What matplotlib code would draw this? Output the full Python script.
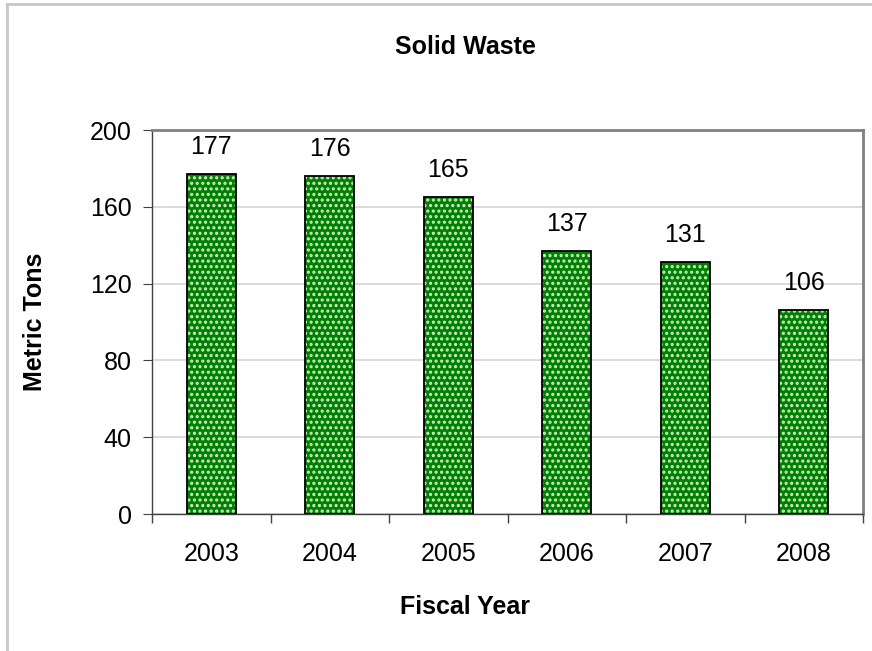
import numpy as np
import matplotlib.pyplot as plt

# -- data
years = ["2003", "2004", "2005", "2006", "2007", "2008"]
tons = [177, 176, 165, 137, 131, 106]
yticks = [0, 40, 80, 120, 160, 200]

plt.rcParams["font.family"] = ["Liberation Sans", "DejaVu Sans"]
plt.rcParams["hatch.linewidth"] = 1.5

fig = plt.figure(figsize=(8.72, 6.51), dpi=100)
ax = fig.add_axes([152 / 872, 1 - 514 / 651, (863 - 152) / 872, (514 - 130) / 651])

# -- outer frame (only top and left visible)
fig.add_artist(plt.Line2D([7 / 872, 1], [1 - 4 / 651, 1 - 4 / 651], color="#c8c8c8", lw=2))
fig.add_artist(plt.Line2D([7 / 872, 7 / 872], [0, 1 - 4 / 651], color="#c8c8c8", lw=2))

x = np.arange(len(years))
ax.bar(x, tons, width=0.41, color="#008000", edgecolor="#d0ecc8", hatch="...", lw=0, zorder=3)
ax.bar(x, tons, width=0.41, fill=False, edgecolor="black", lw=1.3, zorder=4)
for i, v in zip(x, tons):
    ax.text(i, v + 10.5, str(v), ha="center", va="baseline", fontsize=18)

ax.set_xlim(-0.5, len(years) - 0.5)
ax.set_ylim(0, 200)
ax.set_yticks(yticks)
ax.set_xticks(x)
ax.set_xticklabels(years)
ax.set_xticks(np.arange(len(years) + 1) - 0.5, minor=True)
ax.tick_params(axis="x", which="major", length=0, pad=20, labelsize=18)
ax.tick_params(axis="x", which="minor", length=6.5, direction="out", width=1, color="#404040")
ax.tick_params(axis="y", length=6.5, direction="out", pad=8, labelsize=18, color="#404040")
ax.grid(axis="y", color="#d4d4d4", lw=1.2, zorder=0)
ax.set_axisbelow(True)

for s in ["top", "right"]:
    ax.spines[s].set_color("#808080")
    ax.spines[s].set_linewidth(2)
for s in ["left", "bottom"]:
    ax.spines[s].set_color("#404040")
    ax.spines[s].set_linewidth(1)

fig.text(465 / 872, 1 - 47 / 651, "Solid Waste", ha="center", va="center", fontsize=18, fontweight="bold")
fig.text(465 / 872, 1 - 607 / 651, "Fiscal Year", ha="center", va="center", fontsize=18, fontweight="bold")
fig.text(35 / 872, 1 - 322 / 651, "Metric Tons", ha="center", va="center", rotation=90,
         fontsize=18, fontweight="bold")

fig.savefig("out.png", dpi=100)
